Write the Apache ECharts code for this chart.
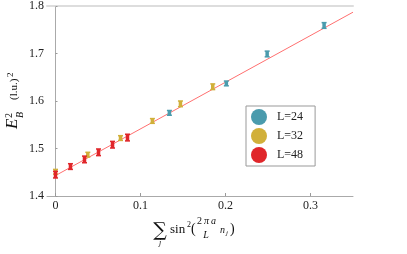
<!DOCTYPE html>
<html><head><meta charset="utf-8">
<script src="https://cdn.jsdelivr.net/npm/echarts@6/dist/echarts.min.js"></script>
<style>html,body{margin:0;padding:0;background:#fff}#c{width:407px;height:254px}</style>
</head><body><div id="c"></div>
<script>
// Data
const xTicks = [0, 0.1, 0.2, 0.3];
const yTicks = [1.4, 1.5, 1.6, 1.7, 1.8];
const seriesNames = ['L=24', 'L=32', 'L=48'];
const x24 = [0.134, 0.201, 0.249, 0.316];
const y24 = [1.575, 1.637, 1.699, 1.759];
const e24 = [0.005, 0.005, 0.006, 0.006];
const x32 = [0, 0.038, 0.0765, 0.114, 0.147, 0.185];
const y32 = [1.451, 1.487, 1.522, 1.558, 1.594, 1.630];
const e32 = [0.005, 0.005, 0.005, 0.005, 0.006, 0.006];
const x48 = [0, 0.0176, 0.0341, 0.0506, 0.0671, 0.0847];
const y48 = [1.445, 1.462, 1.477, 1.492, 1.508, 1.523];
const e48 = [0.007, 0.006, 0.007, 0.007, 0.007, 0.007];
const fitX = [0, 0.35];
const fitY = [1.443, 1.787];

const colors = ['#4a9bad', '#d1b03a', '#e0262a'];
const serif = '"Liberation Serif", "DejaVu Serif", serif';

function pts(xs, ys, es) { return xs.map((x, i) => [x, ys[i], es[i]]); }

function errItem(params, api) {
  const x = api.value(0), y = api.value(1), e = api.value(2);
  const top = api.coord([x, y + e]);
  const bot = api.coord([x, y - e]);
  const c = api.visual('color');
  return {
    type: 'group',
    children: [
      { type: 'rect', shape: { x: top[0] - 1.75, y: top[1], width: 3.5, height: bot[1] - top[1] }, style: { fill: c } },
      { type: 'line', shape: { x1: top[0] - 2.5, y1: top[1], x2: top[0] + 2.5, y2: top[1] }, style: { stroke: c, lineWidth: 1.5 } },
      { type: 'line', shape: { x1: bot[0] - 2.5, y1: bot[1], x2: bot[0] + 2.5, y2: bot[1] }, style: { stroke: c, lineWidth: 1.5 } }
    ]
  };
}

const chart = echarts.init(document.getElementById('c'), null, { renderer: 'canvas' });
const lbl = { fontFamily: serif, fontSize: 12, color: '#222' };
function T(text, x, y, font, align) {
  return { type: 'text', x: x, y: y, style: { text: text, font: font, fill: '#111', align: align || 'left', verticalAlign: 'middle' } };
}
const F = (s, it) => (it ? 'italic ' : '') + s + 'px "Liberation Serif"';

chart.setOption({
  animation: false,
  grid: { left: 47, top: 6, right: 54, bottom: 58 },
  xAxis: [{
    type: 'value', min: -0.01, max: 0.35,
    axisLine: { show: true, lineStyle: { color: '#aaa', width: 1 } },
    axisTick: { show: true, inside: true, length: 3, customValues: xTicks, lineStyle: { color: '#999' } },
    axisLabel: { customValues: xTicks, margin: 4, ...lbl, formatter: v => (Math.abs(v) < 1e-9 ? '0' : v.toFixed(1)) },
    splitLine: { show: false }
  }, {
    type: 'value', position: 'top', min: -0.01, max: 0.35,
    axisLine: { show: true, lineStyle: { color: '#ddd', width: 2 } },
    axisTick: { show: false }, axisLabel: { show: false }, splitLine: { show: false }
  }],
  yAxis: [{
    type: 'value', min: yTicks[0], max: yTicks[yTicks.length - 1], interval: 0.1,
    axisLine: { show: true, lineStyle: { color: '#aaa', width: 1 } },
    axisTick: { show: true, inside: true, length: 2, lineStyle: { color: '#999' } },
    axisLabel: { margin: 3, ...lbl, formatter: v => v.toFixed(1) },
    splitLine: { show: false }
  }, {
    type: 'value', position: 'right', min: 1.4, max: 1.8,
    axisLine: { show: true, lineStyle: { color: '#aaa', width: 1 } },
    axisTick: { show: false }, axisLabel: { show: false }, splitLine: { show: false }
  }],
  legend: {
    orient: 'vertical', left: 246, top: 106,
    padding: [3, 12, 3, 5], itemGap: 3, itemWidth: 16, itemHeight: 16,
    borderColor: '#999', borderWidth: 1, backgroundColor: '#fff',
    icon: 'circle',
    data: seriesNames,
    textStyle: { fontFamily: serif, fontSize: 12, color: '#222', padding: [0, 0, 0, 5] }
  },
  series: [
    { type: 'line', data: fitX.map((x, i) => [x, fitY[i]]), showSymbol: false, symbol: 'none',
      lineStyle: { color: '#ff6f6f', width: 1 }, z: 1, silent: true },
    { name: seriesNames[0], type: 'custom', renderItem: errItem, data: pts(x24, y24, e24), itemStyle: { color: colors[0] }, z: 2,
      encode: { x: 0, y: 1 } },
    { name: seriesNames[1], type: 'custom', renderItem: errItem, data: pts(x32, y32, e32), itemStyle: { color: colors[1] }, z: 3,
      encode: { x: 0, y: 1 } },
    { name: seriesNames[2], type: 'custom', renderItem: errItem, data: pts(x48, y48, e48), itemStyle: { color: colors[2] }, z: 4,
      encode: { x: 0, y: 1 } }
  ],
  graphic: [
    // y-axis title, rotated
    { type: 'group', x: 21, y: 129, rotation: Math.PI / 2, children: [
      { type: 'text', x: 0, y: 0, style: { text: 'E', font: F(17, true), fill: '#111', verticalAlign: 'bottom' } },
      { type: 'text', x: 11, y: -7, style: { text: '2', font: F(10), fill: '#111', verticalAlign: 'bottom' } },
      { type: 'text', x: 11, y: 4, style: { text: 'B', font: F(10, true), fill: '#111', verticalAlign: 'bottom' } },
      { type: 'text', x: 29, y: -1, style: { text: '(l.u.)', font: F(11), fill: '#111', verticalAlign: 'bottom' } },
      { type: 'text', x: 52, y: -6, style: { text: '2', font: F(9), fill: '#111', verticalAlign: 'bottom' } }
    ]},
    // x-axis title
    T('∑', 160, 231, '19px "DejaVu Serif"', 'center'),
    T('j', 160, 243, F(8, true), 'center'),
    T('sin', 170, 230, F(13)),
    T('2', 187, 225, F(8)),
    T('(', 191, 229, F(14)),
    T('2', 197, 221, F(10)),
    T('π', 204, 221, F(10, true)),
    T('a', 211, 221, F(10, true)),
    T('L', 206, 235, F(10, true), 'center'),
    T('n', 220, 230, F(10, true)),
    T('j', 226, 233, F(7, true)),
    T(')', 230, 229, F(14))
  ]
});
</script>
</body></html>
